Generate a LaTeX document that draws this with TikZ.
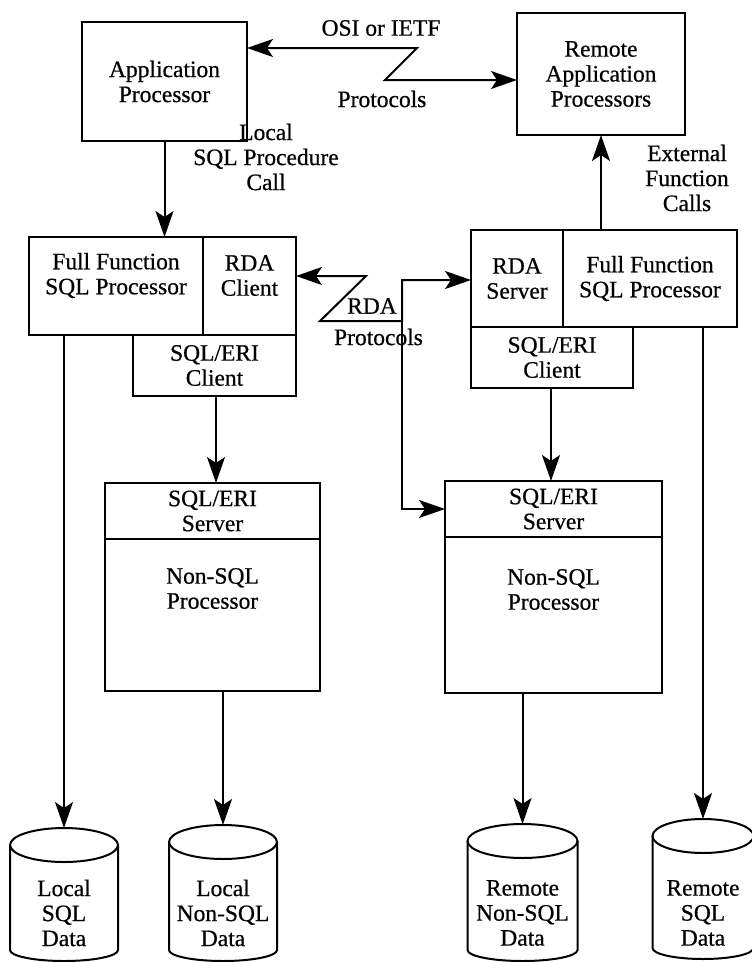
\documentclass[tikz,border=0pt]{standalone}
\usepackage{fontspec}
\setmainfont{Liberation Serif}[FakeBold=0.6]
\usetikzlibrary{arrows.meta}
\begin{document}
\begin{tikzpicture}[x=1pt,y=-1pt,
  >={Stealth[length=26pt,width=18pt,inset=6pt]},
  every node/.style={font=\fontsize{23.5}{25}\selectfont, align=center, inner sep=0pt, outer sep=0pt},
  box/.style={draw, line width=2pt, rectangle},
  conn/.style={line width=2pt, ->},
  conn2/.style={line width=2pt, <->},
  cylline/.style={line width=2pt}
]
\useasboundingbox (0,0) rectangle (752,962);

% top boxes
\node[box, minimum width=165pt, minimum height=119pt] (app) at (164.5,81.5) {Application\\Processor};
\node[box, minimum width=168pt, minimum height=122pt] (rapp) at (601,74) {Remote\\Application\\Processors};

% left composite
\node[box, minimum width=174pt, minimum height=98pt] (lffp) at (116,286) {};
\node (lffpt) at (116,275.5) {Full Function\\SQL Processor};
\node[box, minimum width=93pt, minimum height=98pt] (lrdac) at (249.5,286) {};
\node (lrdact) at (249.5,275.5) {RDA\\Client};
\node[box, minimum width=163pt, minimum height=61pt] (leric) at (214.5,365.5) {SQL/ERI\\Client};

% right composite
\node[box, minimum width=92pt, minimum height=97pt] (rrda) at (517,278.5) {RDA\\Server};
\node[box, minimum width=174pt, minimum height=97pt] (rffp) at (650,278.5) {Full Function\\SQL Processor};
\node[box, minimum width=162pt, minimum height=61pt] (reric) at (552,357.5) {SQL/ERI\\Client};

% lower boxes
\node[box, minimum width=215pt, minimum height=56pt] (lsrv) at (212.5,511) {SQL/ERI\\Server};
\node[box, minimum width=215pt, minimum height=152pt] (lnsp) at (212.5,615) {};
\node (lnspt) at (212.5,588.5) {Non-SQL\\Processor};
\node[box, minimum width=217pt, minimum height=56pt] (rsrv) at (553.5,509) {SQL/ERI\\Server};
\node[box, minimum width=217pt, minimum height=156pt] (rnsp) at (553.5,615) {};
\node (rnspt) at (553.5,589.5) {Non-SQL\\Processor};

% cylinders
\draw[cylline] (64,845) ellipse [x radius=54, y radius=17];
\draw[cylline] (10,845) -- (10,950) arc[start angle=180, end angle=0, x radius=54, y radius=11] -- (118,845);
\coordinate (c1top) at (64,828);
\node (c1) at (64,913) {Local\\SQL\\Data};

\draw[cylline] (223,842) ellipse [x radius=54, y radius=17];
\draw[cylline] (169,842) -- (169,950) arc[start angle=180, end angle=0, x radius=54, y radius=11] -- (277,842);
\coordinate (c2top) at (223,825);
\node (c2) at (223,913) {Local\\Non-SQL\\Data};

\draw[cylline] (522.5,841) ellipse [x radius=55, y radius=17];
\draw[cylline] (467.5,841) -- (467.5,950) arc[start angle=180, end angle=0, x radius=55, y radius=11] -- (577.5,841);
\coordinate (c3top) at (522.5,824);
\node (c3) at (522.5,913) {Remote\\Non-SQL\\Data};

\draw[cylline] (703,836) ellipse [x radius=50.5, y radius=17];
\draw[cylline] (652.5,836) -- (652.5,948) arc[start angle=180, end angle=0, x radius=50.5, y radius=11] -- (753.5,836);
\coordinate (c4top) at (703,819);
\node (c4) at (703,913) {Remote\\SQL\\Data};

% labels
\node (osi) at (381,28) {OSI or IETF};
\node (proto1) at (382,99) {Protocols};
\node (lspc) at (266,157) {Local\\SQL Procedure\\Call};
\node (efc) at (687,178) {External\\Function\\Calls};
\node (rdal) at (372,306) {RDA};
\node (proto2) at (378.5,337) {Protocols};

% connectors
\draw[conn] (app.south) -- (app.south |- lffp.north);
\draw[conn] (rapp.south |- rffp.north) -- (rapp.south);

\coordinate (o1) at (417,48);
\coordinate (o2) at (385,80);
\draw[conn2] (o1 -| app.east) -- (o1) -- (o2) -- (o2 -| rapp.west);

\coordinate (z1) at (366,276);
\coordinate (z2) at (320,321);
\coordinate (z3) at (402,321);
\coordinate (z4) at (402,280);
\draw[conn2] (z1 -| lrdac.east) -- (z1) -- (z2) -- (z3) -- (z4) -- (z4 -| rrda.west);
\draw[conn] (z3) -- (z3 |- rsrv.west) -- (rsrv.west);

\draw[conn] (c1top |- lffp.south) -- (c1top);
\draw[conn] (216,396) -- (216,483);
\draw[conn] (551,388) -- (551,481);
\draw[conn] (c2top |- lnsp.south) -- (c2top);
\draw[conn] (c3top |- rnsp.south) -- (c3top);
\draw[conn] (c4top |- rffp.south) -- (c4top);
\end{tikzpicture}
\end{document}
